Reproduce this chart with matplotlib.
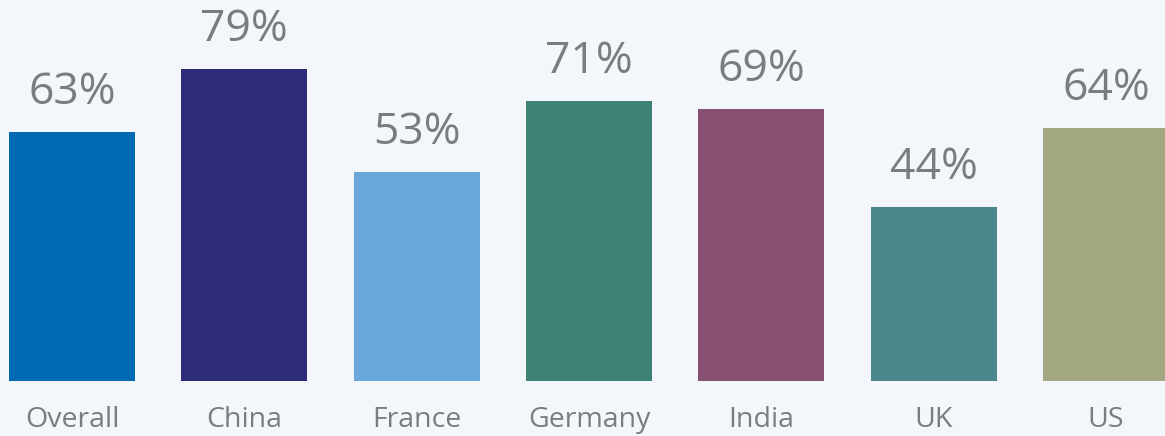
import matplotlib
matplotlib.use("Agg")
import matplotlib.pyplot as plt

categories = ["Overall", "China", "France", "Germany", "India", "UK", "US"]
values = [63, 79, 53, 71, 69, 44, 64]
colors = ["#0069b4", "#2e2c78", "#6aa8dc", "#3d8274", "#875070", "#4b868d", "#a3a882"]
bg = "#f3f6fb"
txt = "#7a7c80"

plt.rcParams['font.family'] = ['Open Sans', 'DejaVu Sans']

fig = plt.figure(figsize=(11.65, 4.36), dpi=100, facecolor=bg)
ax = fig.add_axes([0, 55/436, 1, 381/436])
ax.set_facecolor(bg)
x = list(range(len(categories)))
bars = ax.bar(x, values, width=0.731, color=colors)
ax.set_xlim(-0.418, 6.342)
ax.set_ylim(0, 96.5)
for xi, v in zip(x, values):
    ax.annotate(f"{v}%", (xi, v), xytext=(0, 17), textcoords="offset pixels",
                ha="center", va="bottom", fontsize=32, color=txt)
ax.set_xticks(x)
ax.set_xticklabels(categories, fontsize=20.5, color=txt)
ax.tick_params(axis="x", length=0, pad=18)
ax.set_yticks([])
for s in ax.spines.values():
    s.set_visible(False)
fig.savefig("out.png", dpi=100, facecolor=bg)
